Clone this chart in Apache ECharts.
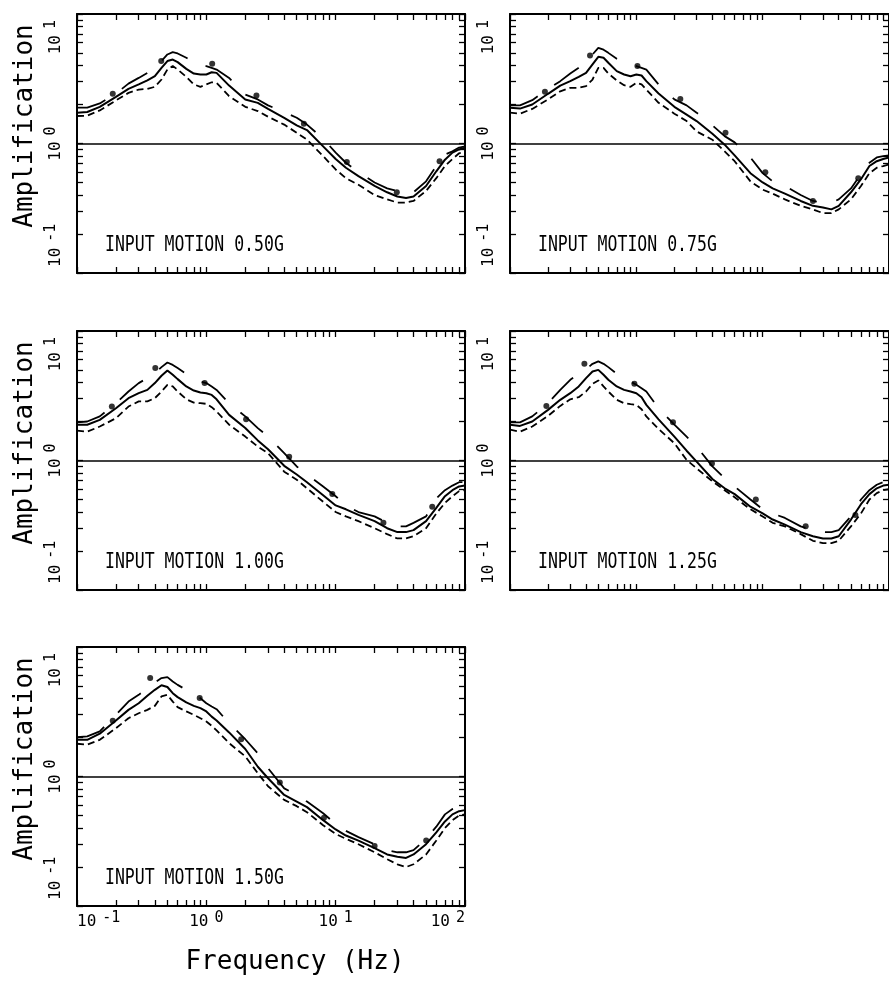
<!DOCTYPE html>
<html>
<head>
<meta charset="utf-8">
<script src="https://cdn.jsdelivr.net/npm/echarts@6/dist/echarts.min.js"></script>
<style>
html,body{margin:0;padding:0;background:#fff;}
#chart{width:889px;height:983px;}
</style>
</head>
<body>
<div id="chart"></div>
<script>
// ---------- data ----------
const freq = [0.1, 0.12, 0.15, 0.2, 0.25, 0.3, 0.35, 0.4, 0.45, 0.5, 0.55, 0.6, 0.7, 0.8, 0.9, 1.0, 1.1, 1.2, 1.5, 2, 2.5, 3, 4, 5, 6, 8, 10, 12, 15, 20, 25, 30, 35, 40, 50, 60, 70, 80, 90, 100];

const mean050  = [1.73,1.75,1.92,2.29,2.64,2.86,3.07,3.31,3.84,4.33,4.45,4.25,3.77,3.47,3.41,3.41,3.55,3.51,2.80,2.19,2.06,1.85,1.58,1.38,1.27,0.95,0.76,0.65,0.56,0.47,0.42,0.39,0.38,0.39,0.47,0.61,0.75,0.85,0.90,0.93];
const upper050 = [1.89,1.89,2.04,2.43,2.90,3.21,3.51,3.72,4.33,4.87,5.07,4.96,4.59,4.25,3.96,3.96,3.84,3.72,3.21,2.39,2.19,1.97,1.75,1.58,1.40,1.09,0.85,0.71,0.60,0.50,0.45,0.43,0.42,0.42,0.51,0.67,0.82,0.87,0.93,0.95];
const lower050 = [1.63,1.64,1.80,2.15,2.46,2.61,2.64,2.74,3.12,3.73,3.96,3.73,3.27,2.86,2.74,2.86,2.97,2.94,2.32,1.92,1.78,1.61,1.40,1.21,1.07,0.80,0.63,0.54,0.48,0.40,0.37,0.35,0.35,0.36,0.43,0.54,0.67,0.76,0.84,0.87];

const mean075  = [1.89,1.86,2.00,2.42,2.80,3.03,3.27,3.51,4.08,4.67,4.59,4.20,3.62,3.41,3.31,3.41,3.35,3.03,2.43,1.92,1.67,1.49,1.19,0.98,0.81,0.59,0.50,0.45,0.41,0.36,0.33,0.32,0.31,0.33,0.42,0.53,0.67,0.73,0.76,0.78];
const upper075 = [1.97,1.97,2.16,2.64,3.03,3.47,3.84,4.20,4.87,5.47,5.30,5.01,4.51,4.27,4.07,3.96,3.84,3.72,2.86,2.19,1.97,1.73,1.38,1.14,1.02,0.78,0.59,0.51,0.47,0.40,0.36,0.35,0.35,0.37,0.45,0.58,0.71,0.78,0.80,0.81];
const lower075 = [1.73,1.70,1.85,2.19,2.53,2.69,2.69,2.77,3.12,3.84,3.84,3.47,3.07,2.82,2.74,2.94,2.86,2.61,2.06,1.70,1.49,1.24,1.07,0.87,0.73,0.51,0.44,0.41,0.37,0.33,0.31,0.29,0.29,0.31,0.37,0.47,0.59,0.65,0.67,0.69];

const mean100  = [1.89,1.89,2.06,2.53,3.03,3.31,3.51,3.96,4.51,4.96,4.59,4.25,3.73,3.47,3.35,3.31,3.21,2.97,2.25,1.78,1.43,1.22,0.91,0.78,0.68,0.54,0.45,0.42,0.38,0.34,0.30,0.28,0.28,0.29,0.34,0.43,0.53,0.59,0.63,0.64];
const upper100 = [1.97,2.00,2.19,2.77,3.41,3.96,4.33,4.72,5.26,5.71,5.47,5.17,4.67,4.33,4.07,3.96,3.72,3.51,2.77,2.19,1.78,1.53,1.14,0.90,0.78,0.63,0.53,0.45,0.40,0.37,0.33,0.31,0.31,0.33,0.37,0.51,0.59,0.64,0.68,0.68];
const lower100 = [1.70,1.67,1.83,2.12,2.61,2.86,2.86,3.03,3.41,3.84,3.73,3.41,2.97,2.80,2.77,2.74,2.58,2.39,1.89,1.53,1.28,1.14,0.82,0.71,0.61,0.48,0.40,0.37,0.34,0.30,0.27,0.25,0.25,0.26,0.30,0.39,0.47,0.53,0.58,0.59];

const mean125  = [1.89,1.85,2.00,2.46,2.94,3.31,3.73,4.33,4.87,5.01,4.59,4.20,3.73,3.51,3.41,3.31,3.08,2.69,2.08,1.53,1.19,0.98,0.72,0.61,0.55,0.44,0.39,0.35,0.32,0.28,0.26,0.25,0.25,0.26,0.35,0.46,0.55,0.61,0.64,0.65];
const upper125 = [1.97,1.97,2.19,2.77,3.51,4.20,4.67,5.07,5.58,5.82,5.58,5.26,4.67,4.33,4.07,3.84,3.62,3.41,2.53,1.89,1.53,1.28,0.90,0.73,0.63,0.50,0.42,0.39,0.36,0.31,0.29,0.28,0.28,0.29,0.37,0.50,0.59,0.65,0.68,0.70];
const lower125 = [1.73,1.67,1.83,2.21,2.64,2.97,3.08,3.41,3.91,4.15,3.73,3.41,2.94,2.77,2.72,2.69,2.49,2.19,1.75,1.36,1.01,0.87,0.69,0.59,0.52,0.42,0.37,0.33,0.31,0.27,0.24,0.23,0.23,0.24,0.31,0.39,0.50,0.56,0.59,0.60];

const mean150  = [1.92,1.92,2.14,2.71,3.27,3.68,4.20,4.67,5.07,4.91,4.40,4.10,3.73,3.51,3.37,3.18,2.90,2.71,2.19,1.63,1.19,0.97,0.72,0.64,0.58,0.46,0.39,0.35,0.32,0.28,0.25,0.24,0.235,0.25,0.30,0.37,0.45,0.51,0.54,0.55];
const upper150 = [2.01,2.04,2.23,3.00,3.79,4.27,4.81,5.32,5.75,5.85,5.41,5.10,4.67,4.27,4.02,3.68,3.47,3.31,2.58,1.94,1.51,1.16,0.81,0.72,0.64,0.52,0.43,0.38,0.34,0.30,0.27,0.26,0.26,0.27,0.33,0.41,0.51,0.56,0.58,0.59];
const lower150 = [1.79,1.76,1.92,2.36,2.82,3.08,3.27,3.51,4.15,4.27,3.79,3.43,3.18,2.99,2.82,2.66,2.46,2.27,1.81,1.43,1.06,0.84,0.66,0.59,0.53,0.42,0.36,0.33,0.30,0.26,0.23,0.21,0.20,0.21,0.25,0.32,0.40,0.46,0.50,0.51];

const dotFreq050 = [0.189,0.448,1.11,2.44,5.68,12.2,29.7,63.6];
const dotAmp050  = [2.42,4.33,4.12,2.35,1.42,0.72,0.42,0.73];
const dotFreq075 = [0.189,0.43,1.02,2.23,5.08,10.5,25.0,57.1];
const dotAmp075  = [2.51,4.79,3.96,2.21,1.21,0.60,0.36,0.54];
const dotFreq100 = [0.186,0.403,0.97,2.03,4.37,9.42,23.4,55.8];
const dotAmp100  = [2.61,5.17,3.96,2.08,1.07,0.55,0.33,0.44];
const dotFreq125 = [0.194,0.388,0.965,1.95,3.97,8.83,21.9,54.2];
const dotAmp125  = [2.64,5.58,3.91,1.97,0.95,0.50,0.31,0.38];
const dotFreq150 = [0.189,0.368,0.888,1.86,3.70,8.12,20.0,50.1];
const dotAmp150  = [2.69,5.75,4.03,1.94,0.90,0.48,0.29,0.32];

const panelTitles = ['INPUT MOTION 0.50G','INPUT MOTION 0.75G','INPUT MOTION 1.00G','INPUT MOTION 1.25G','INPUT MOTION 1.50G'];
const xTickValues = [0.1,0.2,0.3,0.4,0.5,0.6,0.7,0.8,0.9,1,2,3,4,5,6,7,8,9,10,20,30,40,50,60,70,80,90,100];
const xLabelValues = [0.1,1,10,100];
const yTickValues = [0.1,0.2,0.3,0.4,0.5,0.6,0.7,0.8,0.9,1,2,3,4,5,6,7,8,9,10];
const yLabelValues = [0.1,1,10];
const xAxisTitle = 'Frequency (Hz)';
const yAxisTitle = 'Amplification';
const referenceLevel = 1;

// ---------- layout ----------
const panels = [
  {left:77,  top:14,  mean:mean050, upper:upper050, lower:lower050, df:dotFreq050, da:dotAmp050, yName:true,  xLabels:false},
  {left:510, top:14,  mean:mean075, upper:upper075, lower:lower075, df:dotFreq075, da:dotAmp075, yName:false, xLabels:false},
  {left:77,  top:331, mean:mean100, upper:upper100, lower:lower100, df:dotFreq100, da:dotAmp100, yName:true,  xLabels:false},
  {left:510, top:331, mean:mean125, upper:upper125, lower:lower125, df:dotFreq125, da:dotAmp125, yName:false, xLabels:false},
  {left:77,  top:647, mean:mean150, upper:upper150, lower:lower150, df:dotFreq150, da:dotAmp150, yName:true,  xLabels:true}
];
const W = 388, H = 259;
const FONT = "'DejaVu Sans Mono', monospace";

function expFmt(v){
  const e = Math.round(Math.log10(v));
  return '{b|10}{s|' + e + '}';
}
const richX = {
  b:{fontFamily:FONT, fontSize:16, lineHeight:19, verticalAlign:'bottom', color:'#000'},
  s:{fontFamily:FONT, fontSize:15, lineHeight:15, verticalAlign:'top', color:'#000', padding:[0,0,0,6]}
};
const richY = {
  b:{fontFamily:FONT, fontSize:16, lineHeight:20, verticalAlign:'bottom', color:'#000', padding:[0,0,0,6]},
  s:{fontFamily:FONT, fontSize:15, lineHeight:15, verticalAlign:'top', color:'#000', padding:[0,6,0,6]}
};

const grid = [], xAxis = [], yAxis = [], series = [], graphic = [];
const axisLine = {show:true, onZero:false, lineStyle:{color:'#000', width:2}};
const tickStyle = {color:'#000', width:1.3};

panels.forEach((p, i) => {
  grid.push({left:p.left, top:p.top, width:W, height:H, containLabel:false});
  const xb = {
    type:'log', logBase:10, min:0.1, max:100, gridIndex:i, position:'bottom',
    axisLine, splitLine:{show:false},
    axisTick:{show:true, inside:true, length:6, lineStyle:tickStyle, customValues:xTickValues},
    axisLabel: p.xLabels ? {show:true, customValues:xLabelValues, formatter:expFmt, rich:richX, margin:5,
      alignMinLabel:'left', alignMaxLabel:'right'} : {show:false}
  };
  const xt = {
    type:'log', logBase:10, min:0.1, max:100, gridIndex:i, position:'top',
    axisLine, splitLine:{show:false},
    axisTick:{show:true, inside:true, length:6, lineStyle:tickStyle, customValues:xTickValues},
    axisLabel:{show:false}
  };
  const yl = {
    type:'log', logBase:10, min:0.1, max:10, gridIndex:i, position:'left',
    axisLine, splitLine:{show:false},
    axisTick:{show:true, inside:true, length:6, lineStyle:tickStyle, customValues:yTickValues},
    axisLabel:{show:true, customValues:yLabelValues, formatter:expFmt, rich:richY, rotate:90, margin:13,
      alignMinLabel:'left', alignMaxLabel:'right'}
  };
  const yr = {
    type:'log', logBase:10, min:0.1, max:10, gridIndex:i, position:'right',
    axisLine, splitLine:{show:false},
    axisTick:{show:true, inside:true, length:6, lineStyle:tickStyle, customValues:yTickValues},
    axisLabel:{show:false}
  };
  xAxis.push(xb, xt);
  yAxis.push(yl, yr);
  const xi = 2*i, yi = 2*i;
  series.push({
    type:'line', xAxisIndex:xi, yAxisIndex:yi, showSymbol:false, symbol:'none',
    data: freq.map((f,k)=>[f, p.mean[k]]),
    lineStyle:{color:'#000', width:2},
    markLine:{silent:true, symbol:'none', label:{show:false}, animation:false,
      lineStyle:{color:'#000', width:1.7, type:'solid'}, data:[{yAxis:referenceLevel}]}
  });
  series.push({
    type:'line', xAxisIndex:xi, yAxisIndex:yi, showSymbol:false, symbol:'none',
    data: freq.map((f,k)=>[f, p.upper[k]]),
    lineStyle:{color:'#000', width:1.8, type:[30,20]}
  });
  series.push({
    type:'line', xAxisIndex:xi, yAxisIndex:yi, showSymbol:false, symbol:'none',
    data: freq.map((f,k)=>[f, p.lower[k]]),
    lineStyle:{color:'#000', width:1.8, type:[7,4]}
  });
  series.push({
    type:'scatter', xAxisIndex:xi, yAxisIndex:yi, symbol:'circle', symbolSize:6,
    data: p.df.map((f,k)=>[f, p.da[k]]),
    itemStyle:{color:'#000'}
  });
  graphic.push({
    type:'text', x:p.left + 28, y:p.top + 232, scaleY:1.25,
    style:{text:panelTitles[i], font:"16.5px 'DejaVu Sans Mono', monospace", fill:'#000', textAlign:'left', textVerticalAlign:'middle'}
  });
  if (p.yName) {
    graphic.push({
      type:'text', x:25, y:p.top + 112, rotation:Math.PI/2,
      style:{text:yAxisTitle, font:"26px 'DejaVu Sans Mono', monospace", fill:'#000', textAlign:'center', textVerticalAlign:'middle'}
    });
  }
});
graphic.push({
  type:'text', x:295, y:962,
  style:{text:xAxisTitle, font:"26px 'DejaVu Sans Mono', monospace", fill:'#000', textAlign:'center', textVerticalAlign:'middle'}
});

const chart = echarts.init(document.getElementById('chart'), null, {renderer:'canvas'});
chart.setOption({
  animation:false,
  backgroundColor:'#fff',
  grid, xAxis, yAxis, series, graphic
});
</script>
</body>
</html>
